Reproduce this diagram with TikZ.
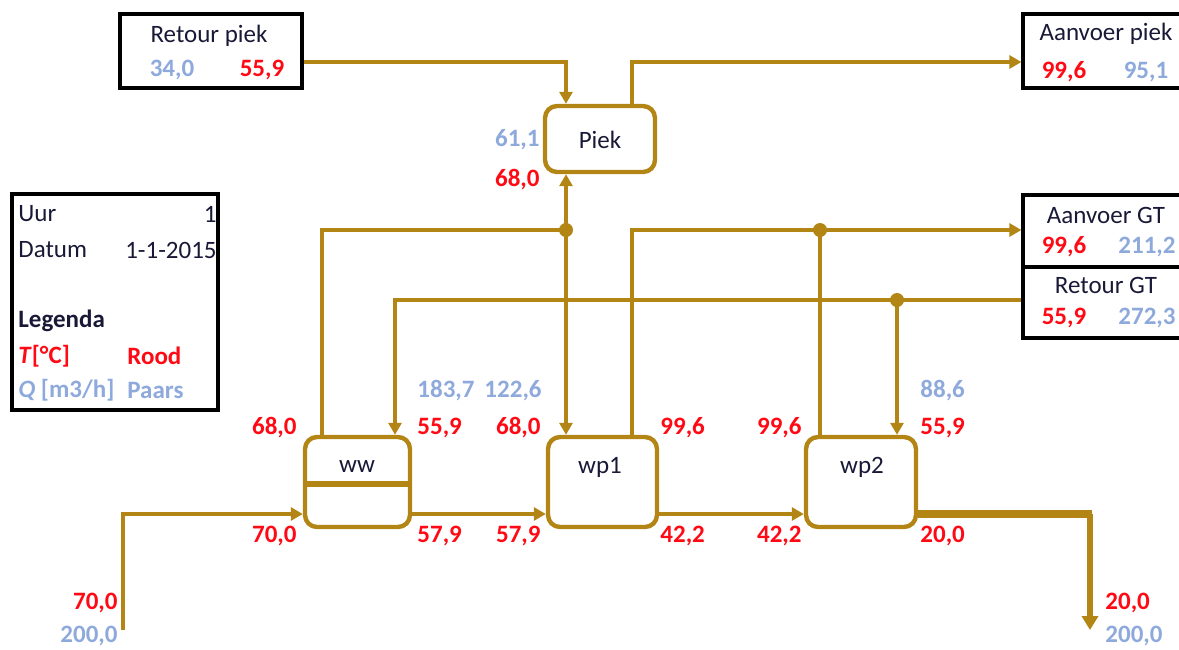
\documentclass[tikz,border=0pt]{standalone}
\usepackage{fontspec}
\setmainfont{Carlito}
\usetikzlibrary{arrows.meta,calc}
\definecolor{pipecol}{RGB}{178,133,20}
\definecolor{tred}{RGB}{255,10,20}
\definecolor{qblue}{RGB}{142,169,219}
\definecolor{ink}{RGB}{25,25,55}
\begin{document}
\begin{tikzpicture}[x=0.5pt,y=-0.5pt,
  font=\fontsize{12.5}{14}\selectfont,
  pipe/.style={draw=pipecol,line width=2pt},
  pipeA/.style={pipe,-{Triangle[length=6pt,width=6.5pt]}},
  unitbox/.style={draw=pipecol,line width=2.2pt,rounded corners=6pt,fill=white,inner sep=0pt},
  infobox/.style={draw=black,line width=1.6pt,inner sep=0pt},
  tlab/.style={text=tred,font=\fontsize{12.5}{14}\selectfont\bfseries,inner sep=0pt},
  qlab/.style={text=qblue,font=\fontsize{12.5}{14}\selectfont\bfseries,inner sep=0pt},
  txt/.style={text=ink,inner sep=0pt},
  jdot/.style={circle,fill=pipecol,inner sep=0pt,minimum size=7pt}
]
\useasboundingbox (0,0) rectangle (1179,649);

% info boxes
\node[infobox,minimum width=91pt,minimum height=37pt] (retp) at (211,51) {};
\node[infobox,minimum width=79.5pt,minimum height=37pt] (avp) at (1102.5,51) {};
\node[infobox,minimum width=79.5pt,minimum height=36pt] (agt) at (1102.5,231) {};
\node[infobox,minimum width=79.5pt,minimum height=35.5pt] (rgt) at (1102.5,302.5) {};
\node[infobox,minimum width=103pt,minimum height=108pt] (leg) at (115,302) {};

% units
\node[unitbox,minimum width=55pt,minimum height=33pt] (piek) at (600,139) {};
\node[unitbox,minimum width=52.5pt,minimum height=45pt] (ww) at (357.5,482) {};
\node[unitbox,minimum width=54.5pt,minimum height=45pt] (wp1) at (602.5,482) {};
\node[unitbox,minimum width=55pt,minimum height=45pt] (wp2) at (861,482) {};
\draw[draw=pipecol,line width=3pt] (ww.west |- 0,484) -- (ww.east |- 0,484);

% junctions and corners
\coordinate (j1) at (566,230);
\coordinate (j2) at (820,230);
\coordinate (j3) at (897,300);
\coordinate (c322) at (322,230);
\coordinate (c632) at (632,230);
\coordinate (c395) at (395,300);
\coordinate (in) at (123,630);
\coordinate (b1) at (123,514);
\coordinate (bc) at (1090,514);
\coordinate (out) at (1090,630);

% pipes
\draw[pipeA] ([yshift=-5.5pt]retp.east) -| (j1 |- piek.north);
\draw[pipeA] (c632 |- piek.north) |- ([yshift=-5.5pt]avp.west);
\draw[pipe] (c322 |- ww.north) |- (j1);
\draw[pipeA] (j1) -- (j1 |- piek.south);
\draw[pipeA] (j1) -- (j1 |- wp1.north);
\draw[pipeA] (c632 |- wp1.north) -- (c632) -- (c632 -| agt.west);
\draw[pipe] (j2 |- wp2.north) -- (j2);
\draw[pipeA] (rgt.west |- j3) -- (c395) -- (c395 |- ww.north);
\draw[pipeA] (j3) -- (j3 |- wp2.north);
\node[jdot] (d1) at (j1) {};
\node[jdot] (d2) at (j2) {};
\node[jdot] (d3) at (j3) {};

\draw[pipeA] (in) -- (b1) -- (b1 -| ww.west);
\draw[pipeA] (b1 -| ww.east) -- (b1 -| wp1.west);
\draw[pipeA] (b1 -| wp1.east) -- (b1 -| wp2.west);
\draw[draw=pipecol,line width=4pt] (b1 -| wp2.east) -- ([xshift=1pt]bc);
\draw[draw=pipecol,line width=2.6pt,-{Triangle[length=7pt,width=8pt]}] (bc) -- (out);

% unit texts
\node[txt] (tpiek) at (600,140) {Piek};
\node[txt] (tww) at (357,467) {ww};
\node[txt] (twp1) at (600,467) {wp1};
\node[txt] (twp2) at (862,467) {wp2};

% info box texts
\node[txt] (t1) at (209,36) {Retour piek};
\node[qlab] (t2) at (172,70) {34,0};
\node[tlab] (t3) at (262,70) {55,9};
\node[txt] (t4) at (1106,34) {Aanvoer piek};
\node[tlab] (t5) at (1064,72) {99,6};
\node[qlab] (t6) at (1146,72) {95,1};
\node[txt] (t7) at (1106,215) {Aanvoer GT};
\node[tlab] (t8) at (1064,247) {99,6};
\node[qlab] (t9) at (1147,247) {211,2};
\node[txt] (t10) at (1106,285) {Retour GT};
\node[tlab] (t11) at (1064,318) {55,9};
\node[qlab] (t12) at (1147,318) {272,3};

% legend
\node[txt,anchor=west] (l1) at (18,214) {Uur};
\node[txt,anchor=east] (l2) at (217,214) {1};
\node[txt,anchor=west] (l3) at (18,250) {Datum};
\node[txt,anchor=east] (l4) at (217,250) {1-1-2015};
\node[txt,anchor=west,font=\fontsize{12.5}{14}\selectfont\bfseries] (l5) at (18,321) {Legenda};
\node[tlab,anchor=west] (l6) at (18,356) {\textit{T}[°C]};
\node[tlab,anchor=west] (l7) at (127,356) {Rood};
\node[qlab,anchor=west] (l8) at (18,390) {\textit{Q} [m3/h]};
\node[qlab,anchor=west] (l9) at (127,390) {Paars};

% piek labels
\node[qlab,anchor=east] (p1) at (540,140) {61,1};
\node[tlab,anchor=east] (p2) at (540,180) {68,0};

% upper labels
\node[tlab,anchor=east] (u1) at (297,428) {68,0};
\node[tlab,anchor=west] (u2) at (417,428) {55,9};
\node[tlab,anchor=east] (u3) at (541,428) {68,0};
\node[tlab,anchor=west] (u4) at (660,428) {99,6};
\node[tlab,anchor=east] (u5) at (802,428) {99,6};
\node[tlab,anchor=west] (u6) at (920,428) {55,9};
\node[qlab,anchor=west] (q1) at (417,391) {183,7};
\node[qlab,anchor=east] (q2) at (542,391) {122,6};
\node[qlab,anchor=west] (q3) at (920,391) {88,6};

% lower labels
\node[tlab,anchor=east] (d4) at (297,536) {70,0};
\node[tlab,anchor=west] (d5) at (417,536) {57,9};
\node[tlab,anchor=east] (d6) at (541,536) {57,9};
\node[tlab,anchor=west] (d7) at (660,536) {42,2};
\node[tlab,anchor=east] (d8) at (802,536) {42,2};
\node[tlab,anchor=west] (d9) at (920,536) {20,0};

% in/out labels
\node[tlab,anchor=east] (i1) at (118,603) {70,0};
\node[qlab,anchor=east] (i2) at (118,636) {200,0};
\node[tlab,anchor=west] (o1) at (1105,603) {20,0};
\node[qlab,anchor=west] (o2) at (1105,636) {200,0};
\end{tikzpicture}
\end{document}
